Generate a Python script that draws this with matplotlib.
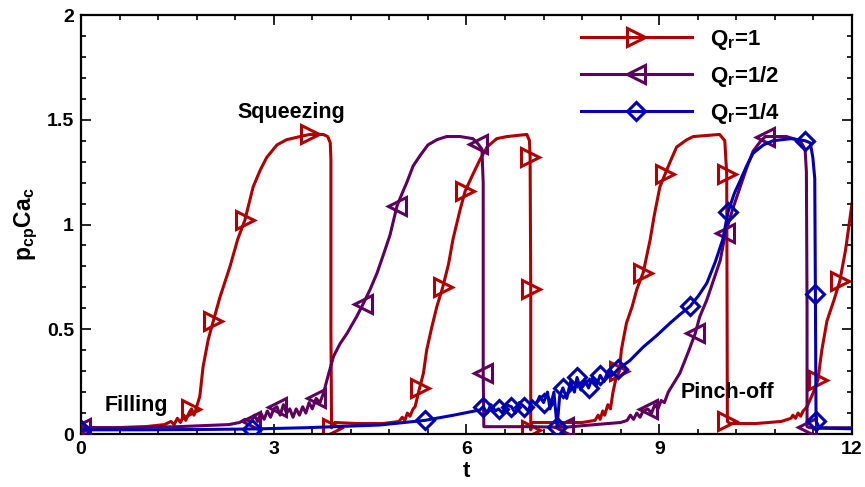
import numpy as np
import matplotlib
matplotlib.use("Agg")
import matplotlib.pyplot as plt
from matplotlib.ticker import MultipleLocator, FuncFormatter

plt.rcParams['font.family'] = ['Liberation Sans', 'DejaVu Sans']
plt.rcParams['font.weight'] = 'bold'
plt.rcParams['mathtext.fontset'] = 'custom'
plt.rcParams['mathtext.rm'] = 'Liberation Sans:bold'
plt.rcParams['mathtext.it'] = 'Liberation Sans:bold'
plt.rcParams['mathtext.bf'] = 'Liberation Sans:bold'

# (t, p_cp*Ca_c, marker flag)
red = [
    (0.00, 0.030, 1), (0.50, 0.030, 0), (1.00, 0.035, 0), (1.30, 0.045, 0),
    (1.40, 0.060, 0), (1.45, 0.045, 0), (1.50, 0.075, 0), (1.55, 0.055, 0),
    (1.60, 0.090, 0), (1.63, 0.065, 0), (1.68, 0.100, 0), (1.72, 0.120, 1),
    (1.76, 0.090, 0), (1.80, 0.130, 0), (1.85, 0.180, 0), (1.90, 0.320, 0),
    (1.98, 0.450, 0), (2.06, 0.540, 1), (2.16, 0.650, 0), (2.32, 0.800, 0),
    (2.44, 0.930, 0), (2.55, 1.020, 1), (2.68, 1.180, 0), (2.79, 1.260, 0),
    (2.89, 1.320, 0), (3.05, 1.380, 0), (3.20, 1.405, 0), (3.41, 1.420, 0),
    (3.56, 1.430, 1), (3.77, 1.430, 0), (3.84, 1.420, 0), (3.88, 1.390, 0),
    (3.89, 1.310, 0), (3.89, 0.500, 0), (3.90, 0.030, 1), (3.95, 0.055, 0),
    (4.30, 0.050, 0), (4.70, 0.050, 0), (4.95, 0.060, 0), (5.00, 0.080, 0),
    (5.04, 0.065, 0), (5.08, 0.100, 0), (5.12, 0.085, 0), (5.17, 0.120, 0),
    (5.20, 0.130, 0), (5.27, 0.220, 1), (5.33, 0.290, 0), (5.38, 0.400, 0),
    (5.46, 0.510, 0), (5.54, 0.610, 0), (5.63, 0.700, 1), (5.72, 0.810, 0),
    (5.79, 0.930, 0), (5.90, 1.070, 0), (5.98, 1.160, 1), (6.10, 1.240, 0),
    (6.21, 1.310, 0), (6.32, 1.370, 0), (6.47, 1.410, 0), (6.63, 1.420, 0),
    (6.94, 1.430, 0), (6.98, 1.400, 0), (6.99, 1.320, 1), (7.00, 0.690, 1),
    (7.00, 0.020, 1), (7.02, 0.055, 0), (7.50, 0.055, 0), (7.80, 0.055, 0),
    (8.00, 0.065, 0), (8.05, 0.090, 0), (8.08, 0.070, 0), (8.12, 0.110, 0),
    (8.15, 0.090, 0), (8.20, 0.140, 0), (8.24, 0.120, 0), (8.28, 0.200, 0),
    (8.33, 0.270, 0), (8.38, 0.300, 1), (8.41, 0.400, 0), (8.44, 0.450, 0),
    (8.49, 0.530, 0), (8.58, 0.610, 0), (8.65, 0.690, 0), (8.75, 0.770, 1),
    (8.86, 0.930, 0), (8.92, 1.040, 0), (9.01, 1.180, 0), (9.09, 1.240, 1),
    (9.17, 1.300, 0), (9.27, 1.370, 0), (9.43, 1.405, 0), (9.53, 1.420, 0),
    (9.94, 1.430, 0), (10.02, 1.400, 0), (10.05, 1.240, 1), (10.06, 0.060, 1),
    (10.10, 0.050, 0), (10.50, 0.050, 0), (10.90, 0.060, 0), (11.05, 0.075, 0),
    (11.08, 0.090, 0), (11.12, 0.075, 0), (11.16, 0.100, 0), (11.20, 0.085, 0),
    (11.24, 0.110, 0), (11.30, 0.130, 0), (11.40, 0.200, 0), (11.47, 0.260, 1),
    (11.53, 0.400, 0), (11.61, 0.540, 0), (11.72, 0.640, 0), (11.81, 0.730, 1),
    (11.90, 0.880, 0), (12.00, 1.100, 0),
]

purple = [
    (0.00, 0.030, 1), (0.50, 0.030, 0), (1.50, 0.035, 0), (2.30, 0.045, 0),
    (2.47, 0.055, 0), (2.55, 0.070, 0), (2.65, 0.060, 1), (2.70, 0.090, 0),
    (2.75, 0.060, 0), (2.80, 0.100, 0), (2.85, 0.070, 0), (2.90, 0.110, 0),
    (2.95, 0.080, 0), (3.00, 0.120, 0), (3.05, 0.130, 1), (3.10, 0.090, 0),
    (3.15, 0.140, 0), (3.20, 0.100, 0), (3.25, 0.120, 0), (3.30, 0.080, 0),
    (3.35, 0.120, 0), (3.40, 0.090, 0), (3.45, 0.130, 0), (3.50, 0.100, 0),
    (3.55, 0.150, 0), (3.60, 0.120, 0), (3.66, 0.170, 1), (3.72, 0.150, 0),
    (3.78, 0.200, 0), (3.83, 0.260, 0), (3.93, 0.370, 0), (4.03, 0.430, 0),
    (4.14, 0.480, 0), (4.29, 0.560, 0), (4.39, 0.620, 1), (4.50, 0.690, 0),
    (4.61, 0.770, 0), (4.70, 0.850, 0), (4.81, 0.950, 0), (4.92, 1.090, 1),
    (5.00, 1.150, 0), (5.07, 1.200, 0), (5.17, 1.280, 0), (5.28, 1.330, 0),
    (5.40, 1.380, 0), (5.54, 1.405, 0), (5.69, 1.420, 0), (5.90, 1.420, 0),
    (6.10, 1.410, 0), (6.18, 1.385, 1), (6.24, 1.360, 0), (6.26, 1.200, 0),
    (6.26, 0.290, 1), (6.27, 0.035, 0), (6.60, 0.035, 0), (7.00, 0.035, 0),
    (7.52, 0.032, 1), (8.00, 0.045, 0), (8.40, 0.055, 0), (8.50, 0.065, 0),
    (8.55, 0.090, 0), (8.60, 0.070, 0), (8.65, 0.100, 0), (8.70, 0.080, 0),
    (8.75, 0.110, 0), (8.82, 0.120, 1), (8.88, 0.100, 0), (8.93, 0.140, 0),
    (8.98, 0.120, 0), (9.03, 0.160, 0), (9.08, 0.150, 0), (9.14, 0.200, 0),
    (9.32, 0.290, 0), (9.45, 0.390, 0), (9.56, 0.480, 1), (9.63, 0.560, 0),
    (9.74, 0.640, 0), (9.84, 0.730, 0), (9.95, 0.830, 0), (10.03, 0.960, 1),
    (10.15, 1.080, 0), (10.26, 1.180, 0), (10.36, 1.270, 0), (10.46, 1.350, 0),
    (10.57, 1.395, 0), (10.65, 1.420, 1), (10.98, 1.420, 0), (11.19, 1.400, 0),
    (11.27, 1.360, 0), (11.29, 1.250, 0), (11.30, 0.600, 0), (11.30, 0.035, 1),
    (11.35, 0.030, 0), (12.00, 0.030, 0),
]

blue = [
    (0.00, 0.020, 1), (1.00, 0.020, 0), (2.00, 0.022, 0), (2.66, 0.024, 1),
    (3.50, 0.030, 0), (4.65, 0.043, 0), (5.35, 0.065, 1), (5.80, 0.090, 0),
    (6.21, 0.115, 0), (6.26, 0.130, 1), (6.32, 0.100, 0), (6.38, 0.140, 0),
    (6.45, 0.110, 0), (6.50, 0.120, 1), (6.56, 0.100, 0), (6.62, 0.140, 0),
    (6.70, 0.130, 1), (6.76, 0.100, 0), (6.82, 0.150, 0), (6.90, 0.130, 1),
    (6.96, 0.110, 0), (7.02, 0.160, 0), (7.08, 0.140, 0), (7.14, 0.180, 0),
    (7.20, 0.150, 1), (7.26, 0.200, 0), (7.30, 0.120, 0), (7.36, 0.200, 0),
    (7.41, 0.035, 1), (7.45, 0.180, 0), (7.50, 0.220, 1), (7.56, 0.170, 0),
    (7.62, 0.250, 0), (7.68, 0.200, 0), (7.72, 0.270, 1), (7.78, 0.210, 0),
    (7.84, 0.260, 0), (7.90, 0.220, 1), (7.96, 0.270, 0), (8.02, 0.230, 0),
    (8.08, 0.280, 1), (8.14, 0.250, 0), (8.20, 0.300, 0), (8.27, 0.280, 0),
    (8.36, 0.310, 1), (8.54, 0.350, 0), (8.75, 0.415, 0), (8.96, 0.470, 0),
    (9.17, 0.530, 0), (9.32, 0.570, 0), (9.48, 0.610, 1), (9.61, 0.660, 0),
    (9.74, 0.720, 0), (9.87, 0.820, 0), (9.99, 0.930, 0), (10.07, 1.060, 1),
    (10.17, 1.150, 0), (10.26, 1.210, 0), (10.36, 1.280, 0), (10.46, 1.340, 0),
    (10.62, 1.380, 0), (10.77, 1.400, 0), (11.05, 1.410, 0), (11.27, 1.400, 1),
    (11.35, 1.390, 0), (11.39, 1.320, 0), (11.42, 1.220, 0), (11.43, 0.670, 1),
    (11.44, 0.060, 1), (11.50, 0.028, 0), (12.00, 0.025, 0),
]

labels = ['Q$_\\mathrm{r}$=1', 'Q$_\\mathrm{r}$=1/2', 'Q$_\\mathrm{r}$=1/4']
colors = ['#b00000', '#5e005e', '#0000b4']
markers = ['>', '<', 'D']
sizes = [12.5, 12.5, 9.5]

fig = plt.figure(figsize=(8.65, 4.87), dpi=100)
ax = fig.add_axes([0.0936, 0.1088, 0.8914, 0.8603])

for i, series in enumerate([red, purple, blue]):
    arr = np.array(series)
    idx = list(np.where(arr[:, 2] == 1)[0])
    ax.plot(arr[:, 0], arr[:, 1], color=colors[i], lw=2.2, marker=markers[i],
            markevery=idx, ms=sizes[i], mfc='none', mew=2.2, label=labels[i],
            zorder=2 + i)

ax.set_xlim(0, 12)
ax.set_ylim(0, 2)
ax.xaxis.set_major_locator(MultipleLocator(3))
ax.xaxis.set_minor_locator(MultipleLocator(0.6))
ax.yaxis.set_major_locator(MultipleLocator(0.5))
ax.yaxis.set_minor_locator(MultipleLocator(0.1))
ax.yaxis.set_major_formatter(FuncFormatter(lambda v, p: '%g' % v))
ax.tick_params(which='both', direction='in', top=True, right=True, width=1.2)
ax.tick_params(which='major', length=7, labelsize=14, pad=5)
ax.tick_params(which='minor', length=3.5)
for s in ax.spines.values():
    s.set_linewidth(1.6)

ax.set_xlabel('t', fontsize=16, fontweight='bold', labelpad=2)
ax.set_ylabel('p$_\\mathrm{cp}$Ca$_\\mathrm{c}$', fontsize=16.5, fontweight='bold', labelpad=5)

ax.text(3.27, 1.537, 'Squeezing', fontsize=15.5, fontweight='bold', ha='center', va='center')
ax.text(0.87, 0.138, 'Filling', fontsize=15.5, fontweight='bold', ha='center', va='center')
ax.text(10.06, 0.2, 'Pinch-off', fontsize=15.5, fontweight='bold', ha='center', va='center')

ax.legend(loc='upper left', bbox_to_anchor=(0.628, 1.007), frameon=False,
          fontsize=16, handlelength=5.0, labelspacing=0.55, borderpad=0.2,
          handletextpad=0.8)

fig.savefig('out.png', dpi=100)
